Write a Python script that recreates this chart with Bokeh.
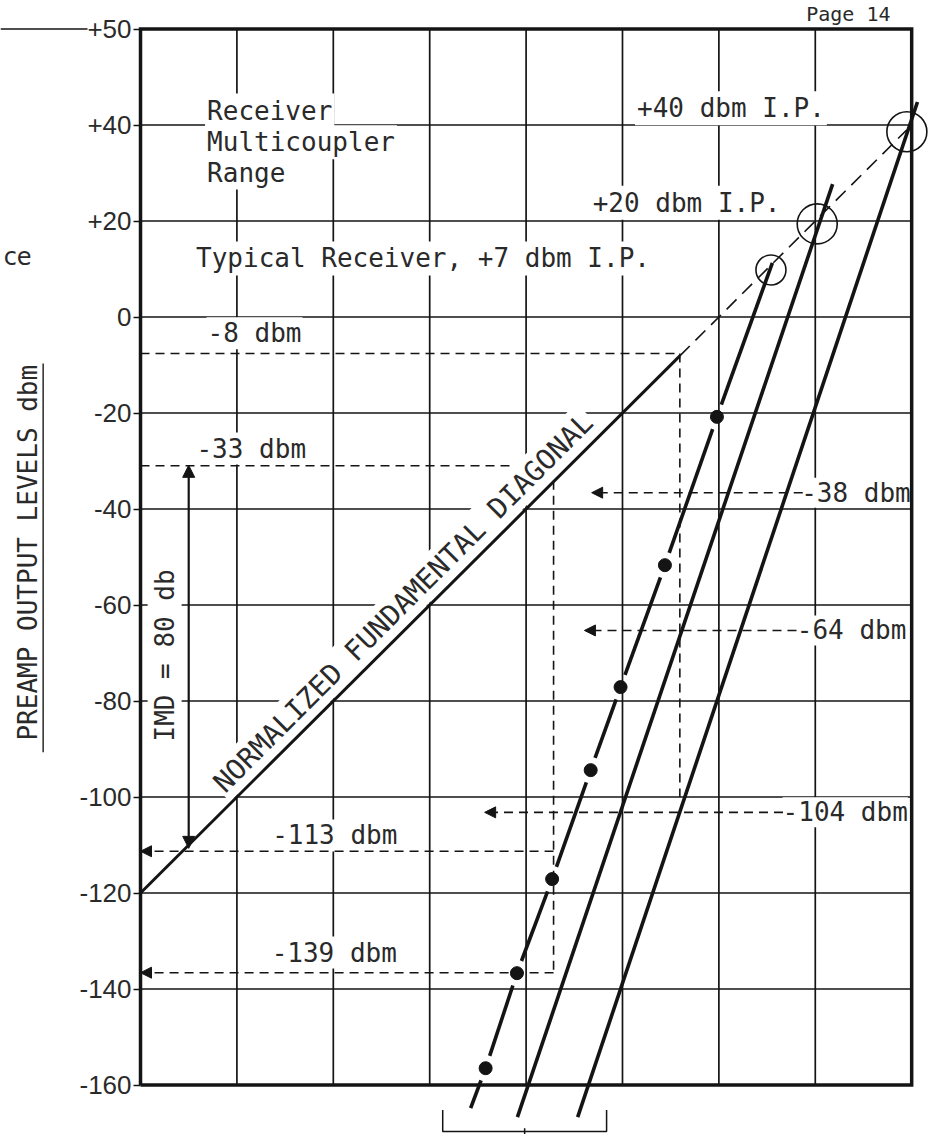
import math
from bokeh.plotting import figure
from bokeh.models import Range1d, LinearAxis, FixedTicker, Arrow, NormalHead, ColumnDataSource
from bokeh.core.properties import value
from bokeh.embed import file_html
from bokeh.resources import INLINE

# ----------------------------- data -----------------------------
x_grid = [-120, -100, -80, -60, -40, -20, 0, 20, 40]
y_ticks = [-160, -140, -120, -100, -80, -60, -40, -20, 0, 20, 40, 60]
y_tick_labels = ["-160", "-140", "-120", "-100", "-80", "-60", "-40", "-20",
                 "0", "+20", "+40", "+50"]

diag_solid = [-120.0, -8.1]      # normalized fundamental diagonal (y = x), solid part
diag_dashed = [-8.1, 39.0]       # extrapolated (dashed) part

# +7 dbm I.P. line: first / last are line ends, the others are the plotted dots
ip7_x = [11.1, -0.4, -11.2, -20.4, -26.6, -34.6, -41.9, -48.4, -51.5]
ip7_y = [11.3, -20.8, -51.7, -77.1, -94.4, -117.1, -136.7, -156.5, -164.8]
ip20_x = [23.6, -41.8]
ip20_y = [27.7, -166.7]
ip40_x = [41.2, -29.3]
ip40_y = [44.8, -166.7]

ip_points_x = [10.8, 20.4, 39.0]
ip_points_y = [9.8, 19.4, 38.6]
ip_labels = ["Typical Receiver, +7 dbm I.P.", "+20 dbm I.P.", "+40 dbm I.P."]
range_lines = ["Receiver", "Multicoupler", "Range"]

level_labels = ["-8 dbm", "-33 dbm", "-113 dbm", "-139 dbm", "-38 dbm", "-64 dbm", "-104 dbm"]
level_y = [-7.6, -31.0, -111.3, -136.6, -36.6, -65.3, -103.2]
level_x_from = [-8.1, -34.3, -34.3, -34.3, 17.4, 16.1, 13.3]
level_x_to = [-120.0, -120.0, -120.0, -120.0, -26.4, -27.9, -48.6]
level_arrow = [False, False, True, True, True, True, True]

drop_x = [-8.1, -34.3]
drop_y_top = [-7.6, -31.0]
drop_y_bottom = [-100.0, -136.6]

imd_x = -110.0
imd_y = [-110.7, -30.9]

# ----------------------------- layout -----------------------------
W, H = 928, 1134
XR = (-149.05, 43.49)
YR = (-170.31, 65.94)
KX = W / (XR[1] - XR[0])
KY = H / (YR[1] - YR[0])

INK = "#141414"
TXT = "#2a2a2a"
MONO = value("DejaVu Sans Mono")

p = figure(width=W, height=H, x_range=Range1d(*XR), y_range=Range1d(*YR),
           x_axis_type=None, y_axis_type=None, toolbar_location=None,
           output_backend="svg", min_border=0, outline_line_color=None)
p.background_fill_color = "white"
p.border_fill_color = "white"

xmin, xmax = x_grid[0], x_grid[-1]
ymin, ymax = y_ticks[0], y_ticks[-1]
inner_x = x_grid[1:-1]
inner_y = y_ticks[1:-1]

# grid
p.segment(x0=inner_x, y0=[ymin] * len(inner_x), x1=inner_x, y1=[ymax] * len(inner_x),
          line_color=INK, line_width=1.7)
p.segment(x0=[xmin] * len(inner_y), y0=inner_y, x1=[xmax] * len(inner_y), y1=inner_y,
          line_color=INK, line_width=1.7)

# rule running off to the left at the top
p.segment(x0=[XR[0]], y0=[ymax], x1=[-131.0], y1=[ymax], line_color=INK, line_width=1.5)

# dashed level lines without arrows and vertical drops
na = [i for i, a in enumerate(level_arrow) if not a]
p.segment(x0=[level_x_to[i] for i in na], y0=[level_y[i] for i in na],
          x1=[level_x_from[i] for i in na], y1=[level_y[i] for i in na],
          line_color=INK, line_width=1.6, line_dash="9 6")
p.segment(x0=drop_x, y0=drop_y_top, x1=drop_x, y1=drop_y_bottom,
          line_color=INK, line_width=1.6, line_dash="9 6")

# texts with white background (they interrupt grid lines like on the original)
common = dict(text_font=MONO, text_font_size="26px", text_color=TXT,
              text_baseline="middle", background_fill_color="white")
p.text(x=[-106.6] * 3, y=[43.0, 36.4, 30.1], text=range_lines, text_align="left",
       padding=2, **common)
p.text(x=[-108.9, -26.6, -17.4], y=[12.2, 23.8, 43.5], text=ip_labels, text_align="left",
       padding=2, **common)
p.text(x=[-106.3, -108.6, -92.9, -93.0], y=[-3.4, -27.4, -108.0, -132.4],
       text=level_labels[:4], text_align="left", padding=1, **common)
p.text(x=[39.8, 38.9, 39.2], y=level_y[4:], text=level_labels[4:], text_align="right",
       padding=0, **common)
p.text(x=[-65.5], y=[-59.5], text=["NORMALIZED FUNDAMENTAL DIAGONAL"], angle=math.pi / 4,
       text_font=MONO, text_font_size="28px", text_color=TXT, text_align="center",
       text_baseline="middle", background_fill_color="white", padding=2)
p.text(x=[-115.0], y=[-70.5], text=["IMD = 80 db"], angle=math.pi / 2,
       text_font=MONO, text_font_size="26px", text_color=TXT, text_align="center",
       text_baseline="middle", background_fill_color="white", padding=2)

# axis title (rotated, underlined) and page fragments
p.text(x=[-143.3], y=[-49.1], text=["PREAMP OUTPUT LEVELS dbm"], angle=math.pi / 2,
       text_font=MONO, text_font_size="26px", text_color=TXT, text_align="center",
       text_baseline="middle")
p.segment(x0=[-140.2], y0=[-9.7], x1=[-140.2], y1=[-90.7], line_color=TXT, line_width=1.5)
p.text(x=[-142.6], y=[12.6], text=["ce"], text_font=value("DejaVu Sans"),
       text_font_size="24px", text_color=TXT, text_align="right", text_baseline="middle")
p.text(x=[35.6], y=[63.2], text=["Page 14"], text_font=MONO, text_font_size="20px",
       text_color=TXT, text_align="right", text_baseline="middle")

# border box
p.line([xmin, xmax, xmax, xmin, xmin], [ymin, ymin, ymax, ymax, ymin],
       line_color=INK, line_width=3.5, line_join="miter")

# normalized fundamental diagonal
p.line(diag_solid, diag_solid, line_color=INK, line_width=3)
p.line(diag_dashed, diag_dashed, line_color=INK, line_width=1.6, line_dash="14 8")

# third-order lines
p.line(ip20_x, ip20_y, line_color=INK, line_width=3.6)
p.line(ip40_x, ip40_y, line_color=INK, line_width=3.6)

gap = 13.0
seg_xs, seg_ys = [], []
n = len(ip7_x)
for i in range(n - 1):
    xa, ya, xb, yb = ip7_x[i], ip7_y[i], ip7_x[i + 1], ip7_y[i + 1]
    dpx = math.hypot((xb - xa) * KX, (yb - ya) * KY)
    ta = gap / dpx if i > 0 else 0.0
    tb = 1.0 - gap / dpx if i + 1 < n - 1 else 1.0
    seg_xs.append([xa + (xb - xa) * ta, xa + (xb - xa) * tb])
    seg_ys.append([ya + (yb - ya) * ta, ya + (yb - ya) * tb])
p.multi_line(seg_xs, seg_ys, line_color=INK, line_width=3.6)
p.scatter(ip7_x[1:-1], ip7_y[1:-1], size=13, color=INK)

# intercept point circles
p.scatter(ip_points_x, ip_points_y, marker="circle", size=[30, 40, 40],
          fill_color=None, line_color=INK, line_width=1.6)

# bracket below the chart
bx0, bx1 = -57.3, -23.3
p.line([bx0, bx0, bx1, bx1], [-165.2, -169.7, -169.7, -165.2], line_color=INK, line_width=1.5)
p.segment(x0=[(bx0 + bx1) / 2], y0=[-169.0], x1=[(bx0 + bx1) / 2], y1=[-170.3],
          line_color=INK, line_width=1.5)

# arrows
wa = [i for i, a in enumerate(level_arrow) if a]
arr_src = ColumnDataSource(dict(x0=[level_x_from[i] for i in wa], x1=[level_x_to[i] for i in wa],
                                y=[level_y[i] for i in wa]))
p.add_layout(Arrow(end=NormalHead(size=11, fill_color=INK, line_color=INK),
                   x_start="x0", y_start="y", x_end="x1", y_end="y", source=arr_src,
                   line_color=INK, line_width=1.6, line_dash="9 6"))
p.add_layout(Arrow(start=NormalHead(size=12, fill_color=INK, line_color=INK),
                   end=NormalHead(size=12, fill_color=INK, line_color=INK),
                   x_start=imd_x, y_start=imd_y[0], x_end=imd_x, y_end=imd_y[1],
                   line_color=INK, line_width=2.2))

# y axis placed on the left border of the chart box
yaxis = LinearAxis(ticker=FixedTicker(ticks=y_ticks),
                   major_label_overrides={t: l for t, l in zip(y_ticks, y_tick_labels)},
                   fixed_location=xmin, axis_line_color=None,
                   major_tick_out=7, major_tick_in=0, minor_tick_out=0, minor_tick_in=0,
                   major_tick_line_color=INK, major_tick_line_width=1.5,
                   major_label_standoff=2, major_label_text_font="Liberation Sans",
                   major_label_text_font_size="26px", major_label_text_color=TXT)
p.add_layout(yaxis, "left")

open("out.html", "w").write(file_html(p, INLINE))
